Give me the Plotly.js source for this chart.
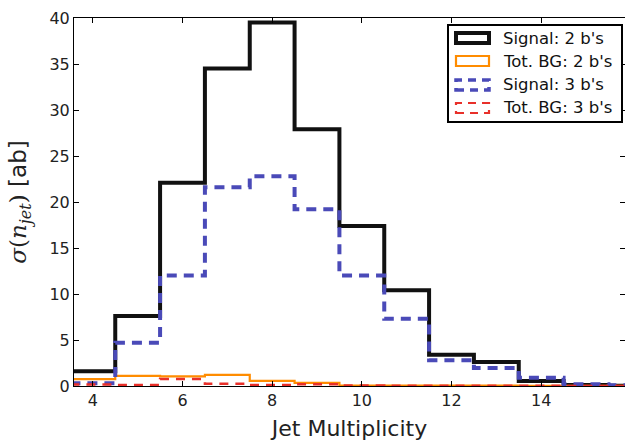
<!DOCTYPE html>
<html>
<head>
<meta charset="utf-8">
<script src="https://cdn.plot.ly/plotly-3.0.1.min.js"></script>
<style>html,body{margin:0;padding:0;background:#fff;overflow:hidden;}#chart{width:625px;height:442px;}</style>
</head>
<body>
<div id="chart"></div>
<script>
// Bin centers (jet multiplicity)
const nJet = [4, 5, 6, 7, 8, 9, 10, 11, 12, 13, 14, 15, 16];
// Cross sections [ab]
const signal2b = [1.6, 7.6, 22.1, 34.5, 39.5, 27.9, 17.4, 10.4, 3.4, 2.6, 0.55, 0.1, 0.03];
const totBG2b  = [0.75, 1.1, 1.05, 1.2, 0.55, 0.35, 0.05, 0.04, 0.03, 0.03, 0.02, 0.02, 0.01];
const signal3b = [0.3, 4.7, 12.0, 21.6, 22.8, 19.2, 12.0, 7.3, 2.8, 1.95, 0.9, 0.2, 0.08];
const totBG3b  = [0.15, 0.1, 0.75, 0.25, 0.1, 0.2, 0.05, 0.04, 0.03, 0.02, 0.02, 0.01, 0.01];
const seriesNames = ["Signal: 2 b's", "Tot. BG: 2 b's", "Signal: 3 b's", "Tot. BG: 3 b's"];
const xTicks = [4, 6, 8, 10, 12, 14];
const yTicks = [0, 5, 10, 15, 20, 25, 30, 35, 40];

function stepXY(vals) {
  const x = nJet.map(c => c - 0.5);
  x.push(nJet[nJet.length - 1] + 0.5);
  const y = vals.slice();
  y.push(vals[vals.length - 1]);
  return {x: x, y: y};
}

const styles = [
  {color: '#111111', width: 4, dash: 'solid'},
  {color: '#ff8c00', width: 2.2, dash: 'solid'},
  {color: '#4a4ab8', width: 4, dash: '10px,7px'},
  {color: '#e8302a', width: 2.5, dash: '9px,7px'}
];
const allSeries = [signal2b, totBG2b, signal3b, totBG3b];

const traces = allSeries.map((v, i) => {
  const s = stepXY(v);
  return {
    x: s.x, y: s.y, type: 'scatter', mode: 'lines', name: seriesNames[i],
    line: {shape: 'hv', color: styles[i].color, width: styles[i].width, dash: styles[i].dash},
    showlegend: false, hoverinfo: 'skip'
  };
});

// layout geometry (pixels)
const L = 74, R = 625, T = 18, B = 386;
const W = 625, H = 442;
const px = x => (x - L) / (R - L);
const py = y => (B - y) / (B - T);

const shapes = [];
const annotations = [];
// legend frame
shapes.push({type: 'rect', xref: 'paper', yref: 'paper', x0: px(448), x1: px(622), y0: py(122), y1: py(25),
  line: {color: '#000', width: 2}, fillcolor: '#fff', layer: 'above'});
const rowY = [38, 61, 85, 108];
rowY.forEach((ry, i) => {
  shapes.push({type: 'rect', xref: 'paper', yref: 'paper', x0: px(456), x1: px(489), y0: py(ry + 5), y1: py(ry - 5),
    line: {color: styles[i].color, width: i === 0 ? 4 : (i === 2 ? 3.5 : 2.2), dash: i >= 2 ? '8px,6px' : 'solid'},
    fillcolor: 'rgba(0,0,0,0)', layer: 'above'});
  annotations.push({xref: 'paper', yref: 'paper', x: px(501), y: py(ry), xanchor: 'left', yanchor: 'middle',
    text: seriesNames[i], showarrow: false, font: {family: 'DejaVu Sans', size: 16.5, color: '#111'}});
});

const layout = {
  width: W, height: H,
  margin: {l: L, r: W - R, t: T, b: H - B},
  paper_bgcolor: '#fff', plot_bgcolor: '#fff',
  font: {family: 'DejaVu Sans', color: '#222'},
  xaxis: {
    range: [3.58, 15.87], tickvals: xTicks, ticktext: xTicks.map(String),
    ticks: 'inside', ticklen: 5, tickcolor: '#000', showline: true, linecolor: '#000', linewidth: 1,
    mirror: 'ticks', showgrid: false, zeroline: false,
    tickfont: {family: 'DejaVu Sans', size: 16, color: '#222'},
    title: {text: 'Jet Multiplicity', font: {family: 'DejaVu Sans', size: 22, color: '#222'}, standoff: 11}
  },
  yaxis: {
    range: [0, 40], tickvals: yTicks, ticktext: yTicks.map(String),
    ticks: 'inside', ticklen: 5, tickcolor: '#000', showline: true, linecolor: '#000', linewidth: 1,
    mirror: 'ticks', showgrid: false, zeroline: false,
    tickfont: {family: 'DejaVu Sans', size: 16, color: '#222'},
    title: {text: "<span style='font-family:DejaVu Serif'><i>σ</i>(<i>n</i><sub><i>jet</i></sub>)</span> [ab]",
      font: {family: 'DejaVu Sans', size: 23, color: '#222'}, standoff: 16}
  },
  shapes: shapes,
  annotations: annotations,
  showlegend: false
};

Plotly.newPlot('chart', traces, layout, {displayModeBar: false, staticPlot: true});
</script>
</body>
</html>
